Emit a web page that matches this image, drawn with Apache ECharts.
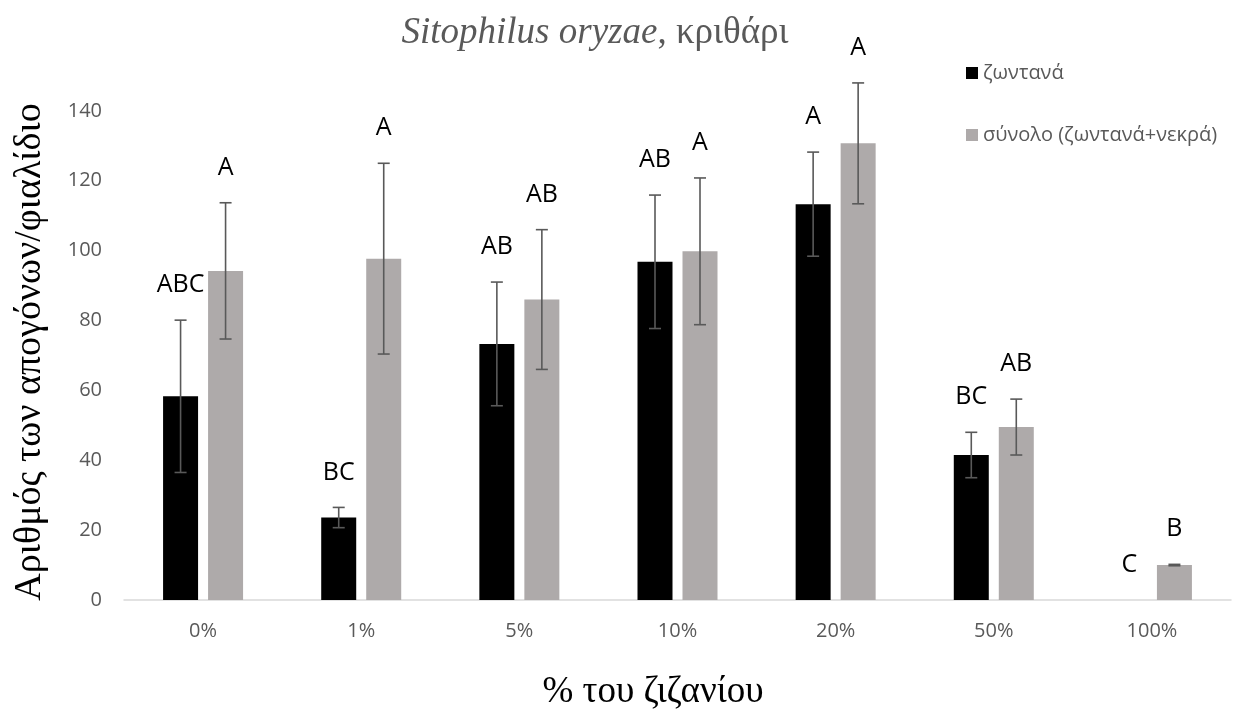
<!DOCTYPE html>
<html><head><meta charset="utf-8">
<script src="https://cdn.jsdelivr.net/npm/echarts@6/dist/echarts.min.js"></script>
<style>html,body{margin:0;padding:0;background:#fff}#c{width:1239px;height:713px}</style>
</head><body><div id="c"></div>
<script>
const categories = ['0%', '1%', '5%', '10%', '20%', '50%', '100%'];
const aliveValues = [58.3, 23.6, 73.3, 96.8, 113.3, 41.5, 0];
const aliveErrors = [21.8, 2.9, 17.7, 19.1, 14.9, 6.5, 0];
const aliveLetters = ['ABC', 'BC', 'AB', 'AB', 'A', 'BC', 'C'];
const totalValues = [94.2, 97.7, 86.0, 99.8, 130.7, 49.5, 10.0];
const totalErrors = [19.5, 27.3, 20.0, 21.0, 17.3, 8.0, 0.2];
const totalLetters = ['A', 'A', 'AB', 'A', 'A', 'AB', 'B'];
const yTicks = [0, 20, 40, 60, 80, 100, 120, 140];
const seriesNames = ['ζωντανά', 'σύνολο (ζωντανά+νεκρά)'];

const BAR_W = 35, GAP = 10, HALF = (BAR_W + GAP) / 2;
const LABEL_FONT = '25px "Open Sans"';

function errSeries(values, errs, letters, side) {
  return {
    type: 'custom',
    silent: true,
    clip: false,
    z: 5,
    data: values.map((v, i) => [i, v, errs[i]]),
    renderItem: function (params, api) {
      const i = api.value(0), v = api.value(1), e = api.value(2);
      const base = api.coord([i, v]);
      const x = base[0] + side * HALF;
      const yTop = api.coord([i, v + e])[1];
      const yBot = api.coord([i, v - e])[1];
      const children = [];
      const st = { stroke: '#595959', lineWidth: 1.6 };
      if (e > 0) {
        children.push({ type: 'line', shape: { x1: x, y1: yTop, x2: x, y2: yBot }, style: st });
        children.push({ type: 'line', shape: { x1: x - 6, y1: yTop, x2: x + 6, y2: yTop }, style: st });
        children.push({ type: 'line', shape: { x1: x - 6, y1: yBot, x2: x + 6, y2: yBot }, style: st });
      }
      children.push({
        type: 'text',
        style: { text: letters[params.dataIndex], x: x, y: yTop - 35, align: 'center', verticalAlign: 'middle', font: LABEL_FONT, fill: '#000' }
      });
      return { type: 'group', children: children };
    }
  };
}

const chart = echarts.init(document.getElementById('c'));
chart.setOption({
  animation: false,
  backgroundColor: '#fff',
  grid: { left: 124, right: 8, top: 41, bottom: 113 },
  legend: {
    orient: 'vertical', left: 961, top: 58,
    itemWidth: 12, itemHeight: 12, itemGap: 42, icon: 'rect',
    textStyle: { color: '#595959', fontSize: 20, fontFamily: 'Open Sans' },
    data: seriesNames
  },
  xAxis: {
    type: 'category', data: categories,
    axisLine: { lineStyle: { color: '#D9D9D9', width: 1.5 } },
    axisTick: { show: false },
    axisLabel: { color: '#595959', fontSize: 20, fontFamily: 'Open Sans', margin: 21 }
  },
  yAxis: {
    type: 'value', min: 0, max: 160, interval: 20,
    axisLine: { show: false }, axisTick: { show: false }, splitLine: { show: false },
    axisLabel: {
      color: '#595959', fontSize: 20, fontFamily: 'Open Sans', margin: 22,
      formatter: v => (yTicks.indexOf(v) >= 0 ? String(v) : '')
    }
  },
  graphic: [
    {
      type: 'text', x: 595, y: 33,
      style: {
        text: '{i|Sitophilus oryzae}{n|, κριθάρι}', align: 'center', verticalAlign: 'middle',
        rich: {
          i: { fontFamily: 'Liberation Serif', fontStyle: 'italic', fontSize: 37, fill: '#595959' },
          n: { fontFamily: 'Liberation Serif', fontSize: 37, fill: '#595959' }
        }
      }
    },
    {
      type: 'text', x: 30, y: 352, rotation: Math.PI / 2,
      style: { text: 'Αριθμός των απογόνων/φιαλίδιο', align: 'center', verticalAlign: 'middle', font: '38px "Liberation Serif"', fill: '#000' }
    },
    {
      type: 'text', x: 653, y: 692,
      style: { text: '% του ζιζανίου', align: 'center', verticalAlign: 'middle', font: '37px "Liberation Serif"', fill: '#000' }
    }
  ],
  series: [
    { name: seriesNames[0], type: 'bar', data: aliveValues, barWidth: BAR_W, barGap: (GAP / BAR_W * 100) + '%', itemStyle: { color: '#000000' } },
    { name: seriesNames[1], type: 'bar', data: totalValues, barWidth: BAR_W, itemStyle: { color: '#AEAAAA' } },
    errSeries(aliveValues, aliveErrors, aliveLetters, -1),
    errSeries(totalValues, totalErrors, totalLetters, 1)
  ]
});
</script></body></html>
